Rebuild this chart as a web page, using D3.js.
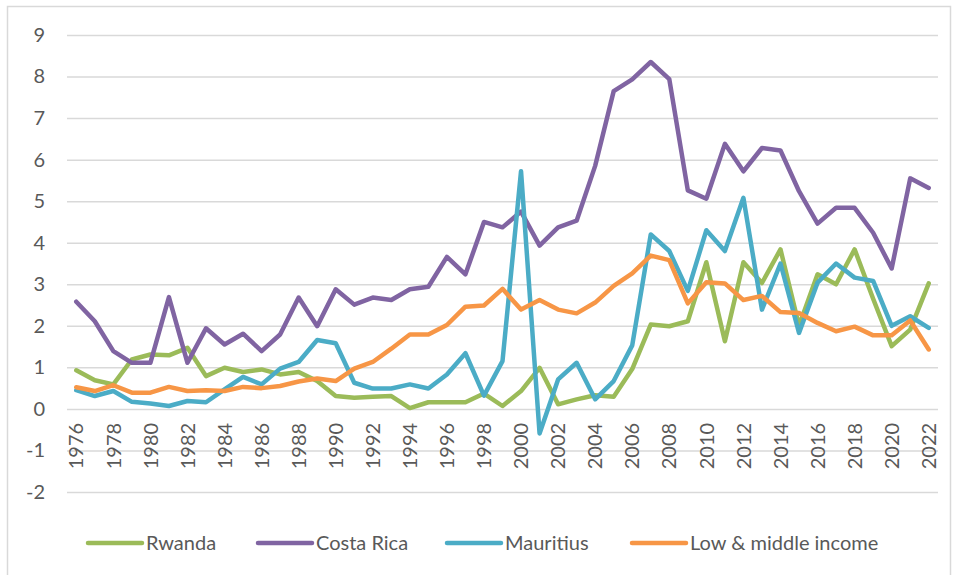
<!DOCTYPE html>
<html>
<head>
<meta charset="utf-8">
<script src="https://cdn.jsdelivr.net/npm/d3@7"></script>
<style>
  body { margin: 0; background: #fff; }
  svg { display: block; font-family: Lato, "Open Sans", sans-serif; }
</style>
</head>
<body>
<script>
'use strict';

// chart data
const years = d3.range(1976, 2023);
const yTicks = [-2, -1, 0, 1, 2, 3, 4, 5, 6, 7, 8, 9];

const rwanda = [0.93, 0.69, 0.59, 1.19, 1.31, 1.29, 1.47, 0.79, 0.99, 0.89,
  0.95, 0.83, 0.89, 0.67, 0.31, 0.27, 0.29, 0.31, 0.02, 0.16,
  0.16, 0.16, 0.37, 0.07, 0.43, 0.99, 0.11, 0.23, 0.33, 0.29,
  0.96, 2.03, 1.99, 2.11, 3.53, 1.63, 3.53, 3.03, 3.84, 2.0,
  3.24, 3.0, 3.84, 2.65, 1.51, 1.91, 3.02];
const costaRica = [2.58, 2.11, 1.39, 1.11, 1.11, 2.69, 1.11, 1.94, 1.55, 1.81,
  1.39, 1.79, 2.68, 1.99, 2.88, 2.51, 2.68, 2.62, 2.88, 2.94,
  3.66, 3.24, 4.5, 4.37, 4.75, 3.93, 4.37, 4.53, 5.85, 7.65,
  7.93, 8.35, 7.94, 5.26, 5.06, 6.38, 5.72, 6.28, 6.22, 5.24,
  4.46, 4.84, 4.84, 4.24, 3.38, 5.55, 5.32];
const mauritius = [0.45, 0.31, 0.43, 0.17, 0.13, 0.07, 0.19, 0.16, 0.47, 0.77,
  0.59, 0.97, 1.13, 1.66, 1.58, 0.63, 0.49, 0.49, 0.59, 0.49,
  0.83, 1.34, 0.32, 1.15, 5.72, -0.59, 0.71, 1.11, 0.23, 0.67,
  1.53, 4.2, 3.8, 2.84, 4.3, 3.8, 5.08, 2.39, 3.5, 1.83,
  3.04, 3.5, 3.16, 3.08, 2.0, 2.23, 1.95];
const lowMiddle = [0.52, 0.43, 0.57, 0.39, 0.39, 0.53, 0.43, 0.45, 0.43, 0.53,
  0.5, 0.55, 0.66, 0.73, 0.67, 0.97, 1.13, 1.45, 1.79, 1.79,
  2.02, 2.46, 2.49, 2.89, 2.39, 2.62, 2.39, 2.3, 2.56, 2.96,
  3.26, 3.69, 3.58, 2.54, 3.05, 3.02, 2.62, 2.72, 2.33, 2.31,
  2.07, 1.87, 1.98, 1.77, 1.77, 2.13, 1.43];

const seriesNames = ["Rwanda", "Costa Rica", "Mauritius", "Low & middle income"];
const seriesColors = ["#9BBB59", "#8064A2", "#4BACC6", "#F79646"];
const seriesValues = [rwanda, costaRica, mauritius, lowMiddle];

const width = 954, height = 575;
const textColor = "#595959";
const gridColor = "#d9d9d9";

const svg = d3.select("body").append("svg")
  .attr("width", width)
  .attr("height", height);

// outer chart frame
svg.append("rect")
  .attr("x", 7.5).attr("y", 6.5)
  .attr("width", 943).attr("height", 580)
  .attr("fill", "none")
  .attr("stroke", gridColor)
  .attr("stroke-width", 1.5);

// scales
const x = d3.scaleBand()
  .domain(years)
  .range([67, 938]);

const y = d3.scaleLinear()
  .domain([-2, 9])
  .range([492, 35]);

// horizontal gridlines + y labels (plain hyphen for negatives, like the original)
const yAxis = d3.axisLeft(y)
  .tickValues(yTicks)
  .tickFormat((d) => String(d))
  .tickSize(-(938 - 67))
  .tickPadding(22);
const yG = svg.append("g")
  .attr("transform", "translate(67,0)")
  .call(yAxis);
yG.select(".domain").remove();
yG.selectAll(".tick line")
  .attr("stroke", gridColor)
  .attr("stroke-width", 1.5);
yG.selectAll(".tick text")
  .attr("fill", textColor)
  .style("font-size", "20px")
  .style("font-family", "Lato, 'Open Sans', sans-serif");

// year labels, every second year, rotated
const labelYears = years.filter((d) => d % 2 === 0);
svg.append("g").selectAll("text")
  .data(labelYears)
  .enter()
  .append("text")
    .attr("transform", (d) => `translate(${x(d) + x.bandwidth() / 2},${y(0) + 14}) rotate(-90)`)
    .attr("dy", "0.36em")
    .attr("text-anchor", "end")
    .attr("fill", textColor)
    .style("font-size", "20px")
    .text((d) => d);

// the lines
const line = d3.line()
  .x((d, i) => x(years[i]) + x.bandwidth() / 2)
  .y((d) => y(d));

svg.append("g").selectAll("path")
  .data(seriesValues)
  .enter()
  .append("path")
    .attr("d", (d) => line(d))
    .attr("fill", "none")
    .attr("stroke", (d, i) => seriesColors[i])
    .attr("stroke-width", 4.5)
    .attr("stroke-linejoin", "round")
    .attr("stroke-linecap", "round");

// legend
const legendX = [86, 256, 445, 630];
const legend = svg.append("g").selectAll("g")
  .data(seriesNames)
  .enter()
  .append("g")
    .attr("transform", (d, i) => `translate(${legendX[i]},543)`);
legend.append("line")
  .attr("x1", 2).attr("x2", 56)
  .attr("y1", 0).attr("y2", 0)
  .attr("stroke", (d, i) => seriesColors[i])
  .attr("stroke-width", 4.5)
  .attr("stroke-linecap", "round");
legend.append("text")
  .attr("x", 60)
  .attr("dy", "0.35em")
  .attr("fill", textColor)
  .style("font-size", "20px")
  .text((d) => d);
</script>
</body>
</html>
